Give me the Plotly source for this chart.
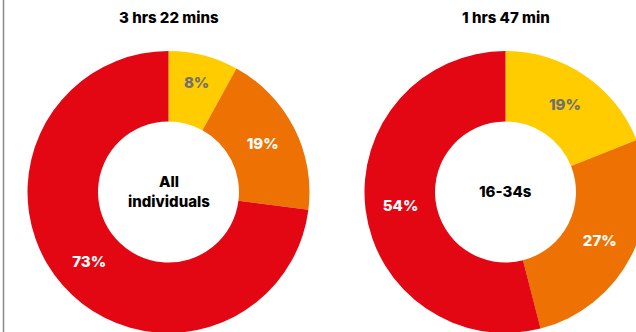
import plotly.graph_objects as go

# Time-spent breakdown per audience group
groups = ["All individuals", "16-34s"]
totals = ["3 hrs 22 mins", "1 hrs 47 min"]
segments = ["Segment A", "Segment B", "Segment C"]
shares_all = [8, 19, 73]
shares_young = [19, 27, 54]

colors = ["#FFCC00", "#EE7203", "#E30613"]
label_colors = ["#707070", "#FFFFFF", "#FFFFFF"]

# Canvas is a bit larger than the viewport so the right ring bleeds off the edge
W, H = 660, 342
R = 141
centers = [(168.5, 192), (505.5, 192)]
font_family = "Inter, Roboto, Arial, sans-serif"


def domain_for(cx, cy):
    return dict(
        x=[(cx - R) / W, (cx + R) / W],
        y=[1 - (cy + R) / H, 1 - (cy - R) / H],
    )


fig = go.Figure()
for (cx, cy), shares, grp in zip(centers, [shares_all, shares_young], groups):
    fig.add_trace(go.Pie(
        labels=segments,
        values=shares,
        sort=False,
        direction="clockwise",
        rotation=0,
        hole=0.5,
        domain=domain_for(cx, cy),
        marker=dict(colors=colors, line=dict(width=0)),
        texttemplate="%{value}%",
        textposition="inside",
        insidetextorientation="horizontal",
        textfont=dict(family=font_family, size=15, color=label_colors, weight=800),
        hoverinfo="label+value",
        showlegend=False,
        name=grp,
    ))

annotations = []
for (cx, cy), title, grp in zip(centers, totals, groups):
    annotations.append(dict(
        x=cx / W, y=1 - 18 / H, xref="paper", yref="paper",
        xanchor="center", yanchor="middle",
        text=title, showarrow=False,
        font=dict(family=font_family, size=15, color="#000000", weight=800),
    ))
    annotations.append(dict(
        x=cx / W, y=1 - (cy - 1) / H, xref="paper", yref="paper",
        xanchor="center", yanchor="middle",
        text=grp.replace(" ", "<br>"), showarrow=False,
        font=dict(family=font_family, size=15, color="#000000", weight=800),
    ))

fig.update_layout(
    width=W, height=H,
    margin=dict(l=0, r=0, t=0, b=0),
    paper_bgcolor="#FFFFFF",
    plot_bgcolor="#FFFFFF",
    annotations=annotations,
    shapes=[dict(
        type="line", xref="paper", yref="paper",
        x0=3.5 / W, x1=3.5 / W, y0=0, y1=1,
        line=dict(color="#8a8a8a", width=1.5),
    )],
)

fig.write_html(
    "out.html",
    post_script=(
        "document.documentElement.style.overflow='hidden';"
        "document.body.style.overflow='hidden';"
        "document.body.style.margin='0';"
    ),
)
